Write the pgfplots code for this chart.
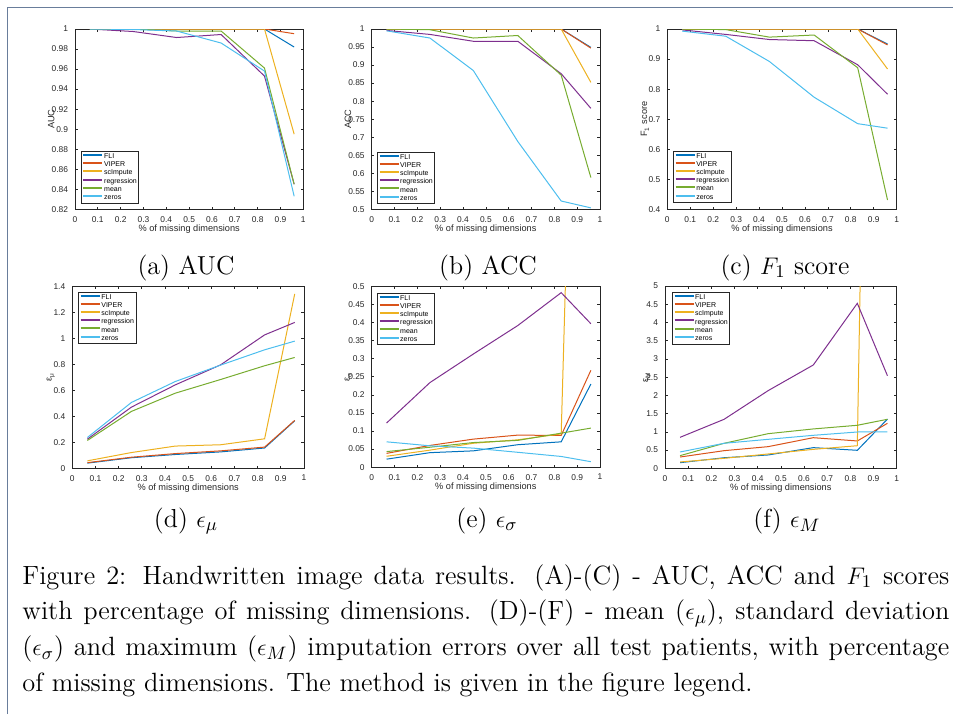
\documentclass[border=0pt]{standalone}
\usepackage{fontspec}
\usepackage{pgfplots}
\pgfplotsset{compat=1.18}
\usepackage{pgfplotstable}
\newfontfamily\mfont{Liberation Sans}
\definecolor{cFLI}{rgb}{0,0.447,0.741}
\definecolor{cVIP}{rgb}{0.85,0.325,0.098}
\definecolor{cSC}{rgb}{0.929,0.694,0.125}
\definecolor{cREG}{rgb}{0.494,0.184,0.556}
\definecolor{cMEAN}{rgb}{0.466,0.674,0.188}
\definecolor{cZERO}{rgb}{0.301,0.745,0.933}
\definecolor{mgray}{rgb}{0.15,0.15,0.15}
\definecolor{framec}{RGB}{105,125,155}

\pgfplotstableread{
x FLI VIPER sc reg mean zeros
0.065 1 1 1 1.0 1 1
0.255 1 1 1 0.9975 1 0.9995
0.445 1 1 1 0.9915 0.998 0.998
0.64 1 1 1 0.9945 0.998 0.986
0.83 1 1 1 0.953 0.961 0.958
0.96 0.982 0.9953 0.895 0.845 0.845 0.833
}\tabA
\pgfplotstableread{
x FLI VIPER sc reg mean zeros
0.065 1 1 1 0.996 1.0 0.995
0.255 1 1 1 0.985 0.998 0.975
0.445 1 1 1 0.966 0.975 0.885
0.64 1 1 1 0.966 0.982 0.688
0.83 1 1 1 0.876 0.872 0.523
0.96 0.949 0.947 0.852 0.78 0.588 0.504
}\tabB
\pgfplotstableread{
x FLI VIPER sc reg mean zeros
0.065 1 1 1 0.997 1.0 0.993
0.255 1 1 1 0.982 0.998 0.976
0.445 1 1 1 0.965 0.973 0.892
0.64 1 1 1 0.961 0.980 0.773
0.83 1 1 1 0.881 0.871 0.685
0.96 0.950 0.947 0.867 0.783 0.431 0.670
}\tabC
\pgfplotstableread{
x FLI VIPER sc reg mean zeros
0.065 0.0385 0.042 0.056 0.223 0.213 0.236
0.255 0.080 0.084 0.12 0.47 0.437 0.506
0.445 0.105 0.112 0.17 0.642 0.578 0.668
0.64 0.125 0.133 0.18 0.796 0.683 0.794
0.83 0.155 0.162 0.226 1.027 0.789 0.912
0.96 0.365 0.368 1.343 1.123 0.853 0.979
}\tabD
\pgfplotstableread{
x FLI VIPER sc reg mean zeros
0.065 0.022 0.038 0.030 0.122 0.043 0.070
0.255 0.040 0.060 0.047 0.234 0.055 0.059
0.445 0.045 0.0775 0.066 0.313 0.068 0.0526
0.64 0.062 0.0886 0.0756 0.392 0.074 0.041
0.83 0.070 0.0876 0.092 0.483 0.094 0.0295
0.96 0.230 0.268 3.0 0.397 0.108 0.015
}\tabE
\pgfplotstableread{
x FLI VIPER sc reg mean zeros
0.065 0.155 0.31 0.174 0.85 0.347 0.448
0.255 0.29 0.484 0.274 1.344 0.686 0.686
0.445 0.366 0.594 0.393 2.13 0.95 0.795
0.64 0.567 0.84 0.52 2.834 1.08 0.905
0.83 0.494 0.75 0.62 4.525 1.18 0.996
0.96 1.35 1.234 48 2.54 1.345 0.996
}\tabF

\newcommand\six[1]{%
  \addplot[cFLI] table[x=x,y=FLI]{#1};
  \addplot[cVIP] table[x=x,y=VIPER]{#1};
  \addplot[cSC] table[x=x,y=sc]{#1};
  \addplot[cREG] table[x=x,y=reg]{#1};
  \addplot[cMEAN] table[x=x,y=mean]{#1};
  \addplot[cZERO] table[x=x,y=zeros]{#1};
  \legend{FLI,VIPER,scImpute,regression,mean,zeros}}

\pgfplotsset{
  mstyle/.style={
    scale only axis, anchor=north west,
    xmin=0, xmax=1,
    xtick={0,0.1,0.2,0.3,0.4,0.5,0.6,0.7,0.8,0.9,1},
    scaled ticks=false,
    tick align=inside,
    major tick length=1.3pt,
    axis line style={mgray, line width=0.4pt},
    every tick/.style={mgray, line width=0.35pt},
    tick label style={font=\mfont\fontsize{4.2}{5}\selectfont, text=mgray},
    label style={font=\mfont\fontsize{4.6}{5}\selectfont, text=mgray},
    /pgf/number format/assume math mode=true,
    /pgf/number format/fixed,
    /pgf/number format/precision=2,
    xlabel={\% of missing dimensions},
    xlabel style={at={(axis description cs:0.5,0)}, anchor=center, yshift=-10.1pt},
    no markers,
    every axis plot/.append style={line width=0.5pt},
    legend cell align=left,
    legend image code/.code={\draw[#1,line width=1pt] (0pt,0.9pt) -- (9.5pt,0.9pt);},
    legend style={draw=mgray, line width=0.35pt, fill=white, inner sep=0.6pt,
      font=\mfont\fontsize{3.5}{4}\selectfont, text=black,
      nodes={inner sep=0.35pt, text height=2.6pt, text depth=0.8pt}},
  },
  ylab/.style={ylabel style={at={(axis description cs:0,0.5)}, anchor=center, yshift=#1}},
}

\begin{document}
\begin{tikzpicture}[x=1pt,y=1pt]
\path[use as bounding box] (0,0) rectangle (476.5,-357);
\draw[framec, line width=0.8pt] (3.65,-357) -- (3.65,-3.65) -- (476.5,-3.65);

% (a)
\begin{axis}[mstyle, at={(37.5pt,-14.5pt)}, width=114.15pt, height=90.15pt,
  ymin=0.82, ymax=1, ytick={0.82,0.84,0.86,0.88,0.9,0.92,0.94,0.96,0.98,1},
  ylabel={AUC}, ylab=11.9pt,
  legend style={at={(0.026,0.033)}, anchor=south west}]
\six{\tabA}
\end{axis}
% (b)
\begin{axis}[mstyle, at={(185.85pt,-14.5pt)}, width=114.15pt, height=90.15pt,
  ymin=0.5, ymax=1, ytick={0.5,0.55,0.6,0.65,0.7,0.75,0.8,0.85,0.9,0.95,1},
  ylabel={ACC}, ylab=11.9pt,
  legend style={at={(0.023,0.029)}, anchor=south west}]
\six{\tabB}
\end{axis}
% (c)
\begin{axis}[mstyle, at={(333.65pt,-14.5pt)}, width=114.7pt, height=90.15pt,
  ymin=0.4, ymax=1, ytick={0.4,0.5,0.6,0.7,0.8,0.9,1},
  ylabel={F\textsubscript{1} score}, ylab=11.2pt,
  legend style={at={(0.025,0.035)}, anchor=south west}]
\six{\tabC}
\end{axis}
% (d)
\begin{axis}[mstyle, at={(36.15pt,-143.25pt)}, width=115.85pt, height=90.8pt,
  ymin=0, ymax=1.4, ytick={0,0.2,0.4,0.6,0.8,1,1.2,1.4},
  ylabel={ε\textsubscript{μ}}, ylab=10.8pt,
  legend style={at={(0.025,0.971)}, anchor=north west}]
\six{\tabD}
\end{axis}
% (e)
\begin{axis}[mstyle, at={(185.85pt,-143.25pt)}, width=114.15pt, height=90.3pt,
  ymin=0, ymax=0.5, ytick={0,0.05,0.1,0.15,0.2,0.25,0.3,0.35,0.4,0.45,0.5},
  ylabel={ε\textsubscript{σ}}, ylab=11.7pt,
  legend style={at={(0.023,0.965)}, anchor=north west}]
\six{\tabE}
\end{axis}
% (f)
\begin{axis}[mstyle, at={(332.5pt,-143pt)}, width=115.85pt, height=91.15pt,
  ymin=0, ymax=5, ytick={0,0.5,1,1.5,2,2.5,3,3.5,4,4.5,5},
  ylabel={ε\textsubscript{M}}, ylab=9.2pt,
  legend style={at={(0.03,0.967)}, anchor=north west}]
\six{\tabF}
\end{axis}

\begin{scope}[font=\fontsize{13}{15}\selectfont]
\node[anchor=base] at (93,-137) {(a) AUC};
\node[anchor=base] at (244,-137) {(b) ACC};
\node[anchor=base] at (392.5,-137) {(c) $F_1$ score};
\node[anchor=base] at (93,-263.5) {(d) $\epsilon_\mu$};
\node[anchor=base] at (243.5,-263.5) {(e) $\epsilon_\sigma$};
\node[anchor=base] at (393.5,-263.5) {(f) $\epsilon_M$};
\end{scope}

\node[anchor=base west, inner sep=0pt] at (11,-292) {\parbox[t]{463.5pt}{\fontsize{13.2}{17.85}\selectfont\hbadness=10000 \hfuzz=20pt
Figure 2: Handwritten image data results. (A)-(C) - AUC, ACC and $F_1$ scores\linebreak with percentage of missing dimensions. (D)-(F) - mean ($\epsilon_\mu$), standard deviation\linebreak ($\epsilon_\sigma$) and maximum ($\epsilon_M$) imputation errors over all test patients, with percentage\linebreak of missing dimensions. The method is given in the figure legend.}};
\end{tikzpicture}
\end{document}
